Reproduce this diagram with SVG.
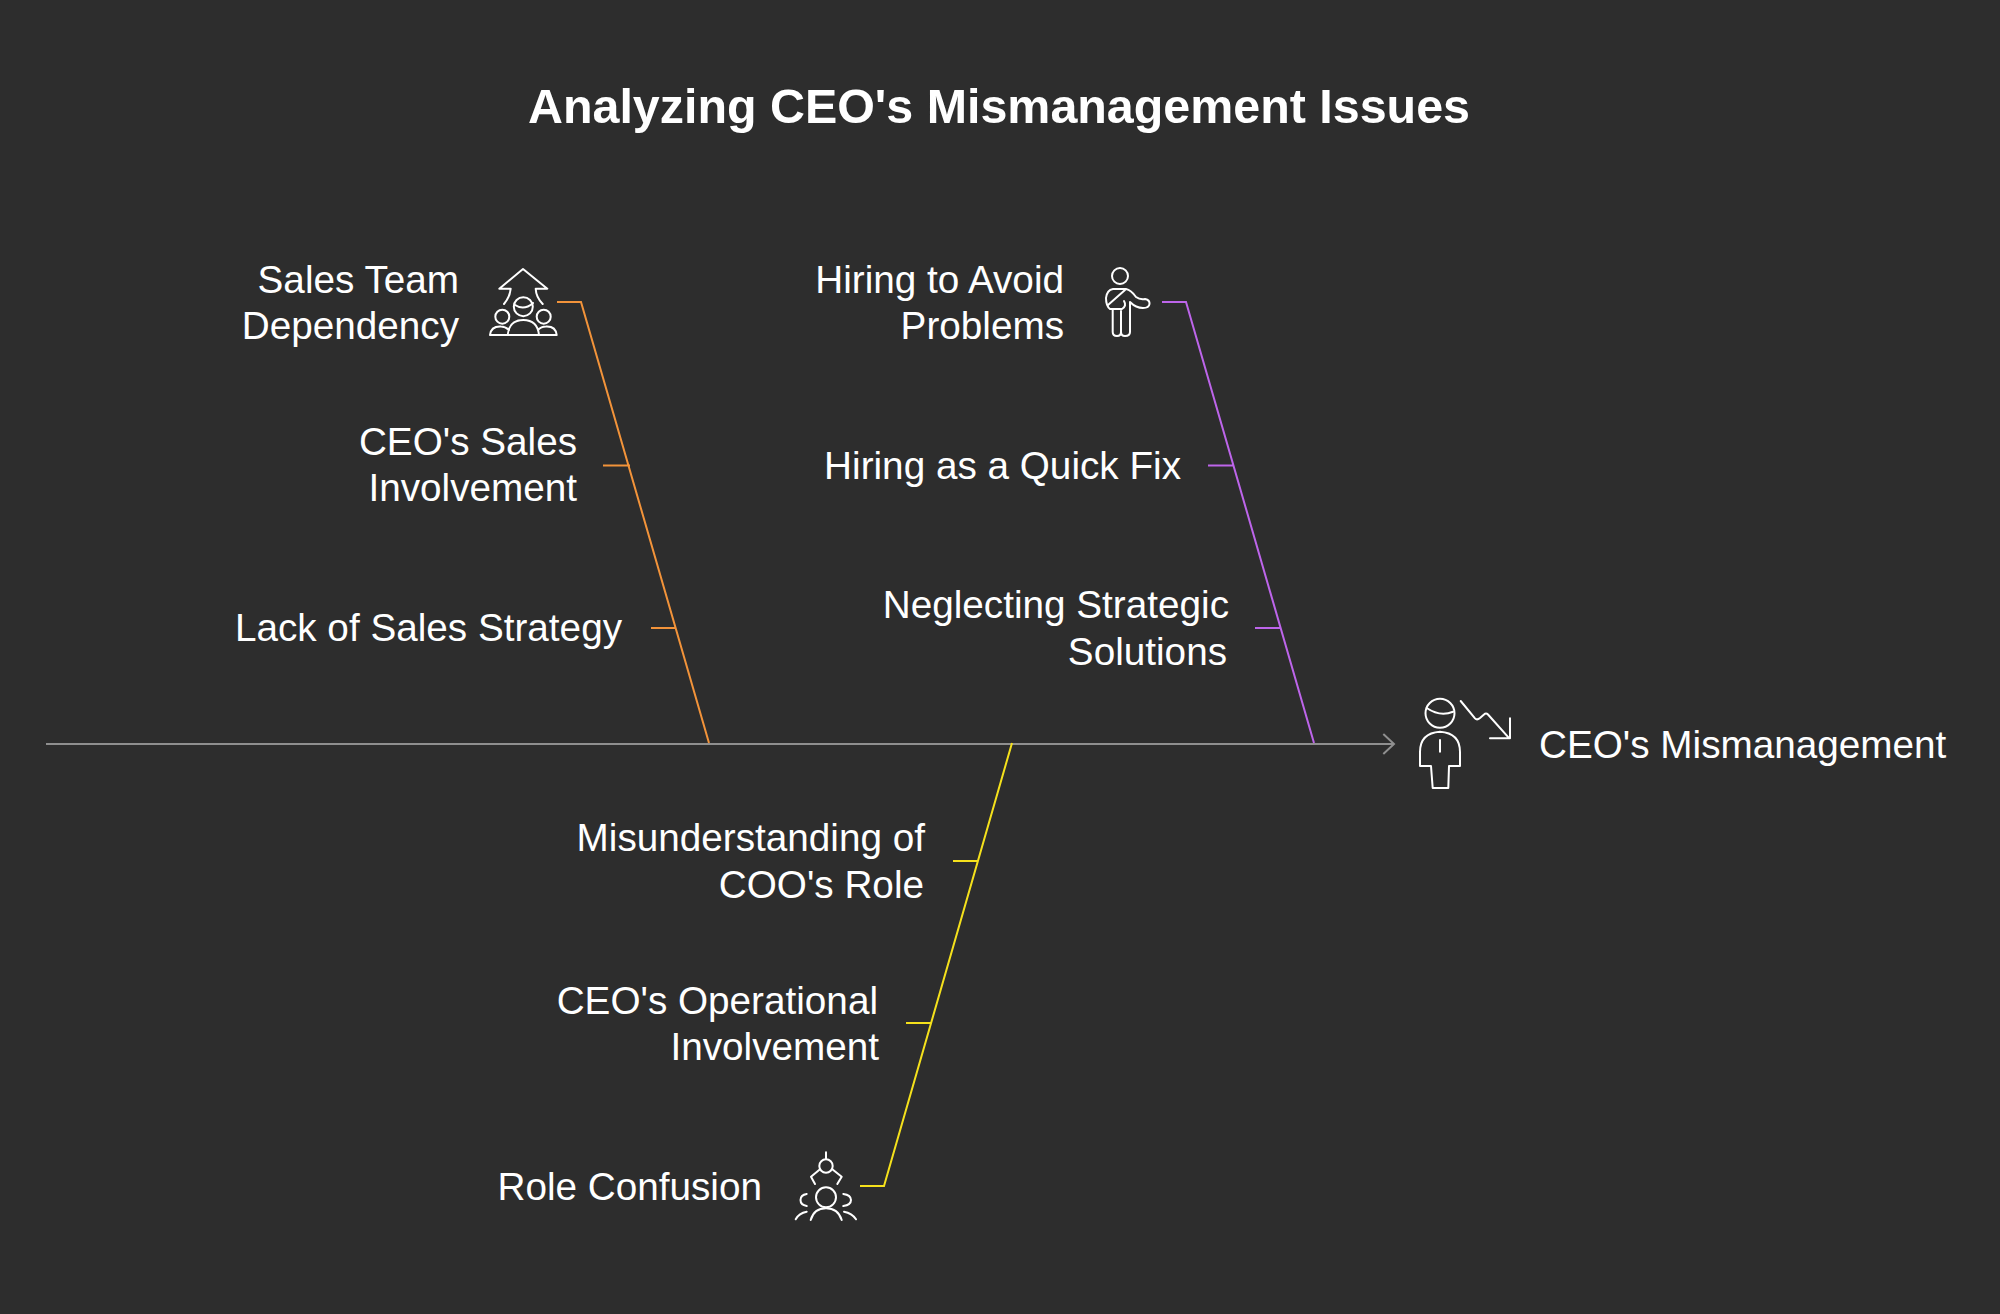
<svg xmlns="http://www.w3.org/2000/svg" width="2000" height="1314" viewBox="0 0 2000 1314">
<style>
text{font-family:"Liberation Sans",Arial,sans-serif;fill:#fff;font-size:38.700px}
.t{font-size:48.400px;font-weight:700}
.e{text-anchor:end}
.i{fill:none;stroke:#fff;stroke-width:2;stroke-linecap:round;stroke-linejoin:round}
.c{fill:none;stroke-width:2}
</style>
<rect width="2000" height="1314" fill="#2d2d2d"/>
<text class="t" x="528" y="122.500">Analyzing CEO's Mismanagement Issues</text>
<g id="connectors">
<path class="c" stroke="#8f8f8f" d="M46 744H1394M1383.300 734L1394 744L1383.300 754"/>
<path class="c" stroke="#f2933a" d="M557 302H581L709 743M603 465.500H630M651 628H676"/>
<path class="c" stroke="#bd65ea" d="M1162 302H1186L1314 743M1208 465.500H1233M1255 628H1280"/>
<path class="c" stroke="#f5e11c" d="M1012 743L884 1186H860M953 861H978M906 1023H931"/>
</g>
<g id="node-sales-team">
<text class="e" x="459" y="293">Sales Team</text><text class="e" x="459" y="339">Dependency</text>
<g class="i"><path d="M510.700 288.700H499.300L523 269L547.300 288.700H535.700M510.700 288.700Q510 297 504 304M535.700 288.700Q536 297 542.700 304"/>
<circle cx="523.300" cy="306.700" r="9.500"/><path d="M515 305Q524 311 533 303"/><circle cx="502.300" cy="316.700" r="7"/><circle cx="543.700" cy="316.700" r="7"/>
<path d="M490 335H556.700M490 335Q491 326 501 326.500Q505 326.500 509 330M556.700 335Q555.700 326 546 326.500Q541 326.500 538 330M507.700 335Q509 320 523.300 320Q537.500 320 539 335"/></g>
</g>
<g id="node-ceo-sales">
<text class="e" x="577" y="455">CEO's Sales</text><text class="e" x="577" y="501">Involvement</text>
</g>
<g id="node-lack-strategy">
<text class="e" x="622" y="641">Lack of Sales Strategy</text>
</g>
<g id="node-hiring-avoid">
<text class="e" x="1064" y="293">Hiring to Avoid</text><text class="e" x="1064" y="339">Problems</text>
<g class="i"><circle cx="1120" cy="276" r="8"/>
<path d="M1113 289H1126Q1131 290 1136 297Q1140 300 1145 299Q1150 300 1149.500 304Q1149 308 1143 308Q1136 308 1130 302V332Q1130 336 1125 336Q1121 336 1121 332Q1121 336 1117 336Q1112.700 336 1112.700 332V309H1110Q1106 306 1106 298Q1107 290 1113 289Z"/>
<path d="M1108 305L1125 290M1112.700 309H1122Q1127 306 1124 301M1121 311V332"/></g>
</g>
<g id="node-quick-fix">
<text class="e" x="1181" y="479">Hiring as a Quick Fix</text>
</g>
<g id="node-neglect">
<text class="e" x="1229" y="618">Neglecting Strategic</text><text class="e" x="1227" y="665">Solutions</text>
</g>
<g id="node-misunderstanding">
<text class="e" x="925" y="851">Misunderstanding of</text><text class="e" x="924" y="898">COO's Role</text>
</g>
<g id="node-ceo-ops">
<text class="e" x="878" y="1014">CEO's Operational</text><text class="e" x="879" y="1060">Involvement</text>
</g>
<g id="node-role-confusion">
<text class="e" x="762" y="1200">Role Confusion</text>
<g class="i"><path d="M826 1152.300V1159"/><circle cx="826" cy="1166" r="6.700"/>
<path d="M820 1169.300L811 1176.700L815 1184M832.300 1169.300L841.700 1176.700L837.300 1184M806.700 1194Q800.500 1195 800.500 1200Q800.500 1205 806.700 1206M843.300 1194Q851 1195 851 1200Q851 1205 843.300 1206"/>
<circle cx="826" cy="1197.300" r="10"/>
<path d="M810.700 1220Q814 1208.300 826 1208.300Q838 1208.300 841.700 1220M795.700 1219.300Q799 1213 806.700 1211.700M856 1219.300Q852 1213 844 1211.700"/></g>
</g>
<g id="node-mismanagement">
<text x="1539" y="758">CEO's Mismanagement</text>
<g class="i"><circle cx="1440" cy="713.300" r="14.500"/>
<path d="M1426.700 708Q1440 717 1453 711.700M1440 740V751.700M1420 766V752Q1420 733 1440 731.700Q1460 733 1460 752V766H1449L1448.300 788H1432.700L1431 766Z"/>
<path d="M1460.700 701L1475 718.300Q1477 720.500 1480 718L1484 714.500Q1486 712.500 1488 714.500L1509.300 738.300M1510 718.300V738.300H1490"/></g>
</g>
</svg>
